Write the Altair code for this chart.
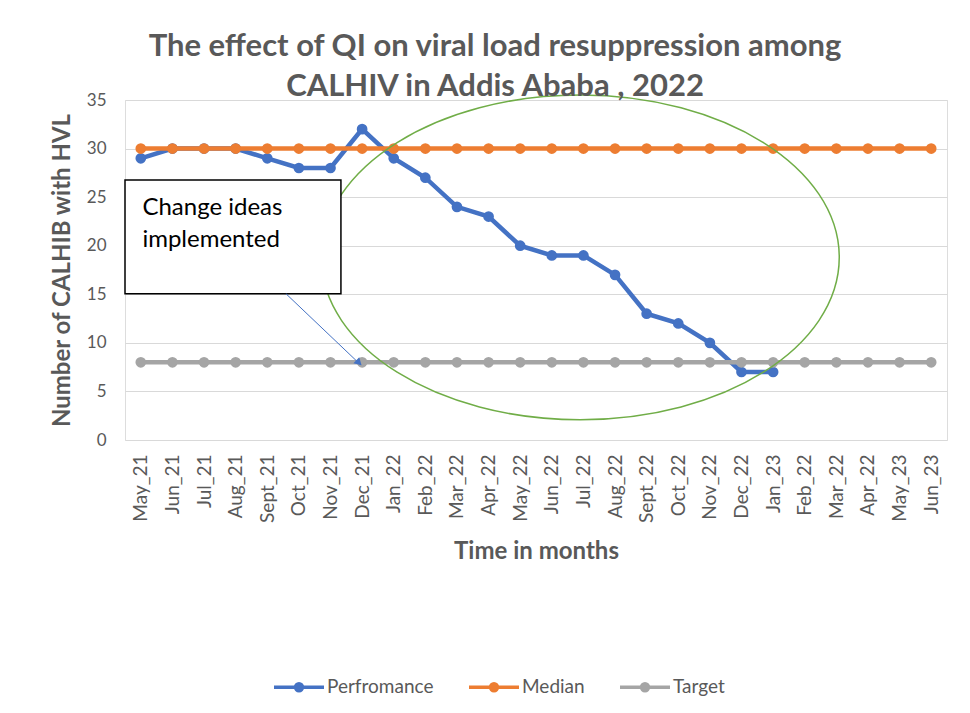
import altair as alt
import pandas as pd

# ---------------- data ----------------
months = ["May_21", "Jun_21", "Jul_21", "Aug_21", "Sept_21", "Oct_21", "Nov_21",
          "Dec_21", "Jan_22", "Feb_22", "Mar_22", "Apr_22", "May_22", "Jun_22",
          "Jul_22", "Aug_22", "Sept_22", "Oct_22", "Nov_22", "Dec_22", "Jan_23",
          "Feb_22", "Mar_22", "Apr_22", "May_23", "Jun_23"]
performance = [29, 30, 30, 30, 29, 28, 28, 32, 29, 27, 24, 23, 20, 19, 19, 17,
               13, 12, 10, 7, 7]
median = [30, 30, 30, 30, 30, 30, 30, 30, 30, 30, 30, 30, 30, 30, 30, 30, 30,
          30, 30, 30, 30, 30, 30, 30, 30, 30]
target = [8, 8, 8, 8, 8, 8, 8, 8, 8, 8, 8, 8, 8, 8, 8, 8, 8, 8, 8, 8, 8, 8, 8,
          8, 8, 8]
series_names = ["Perfromance", "Median", "Target"]
series_colors = ["#4472C4", "#ED7D31", "#A5A5A5"]

title_lines = ["The effect of QI on viral load resuppression among",
               "CALHIV in Addis Ababa , 2022"]
y_title = "Number of CALHIB with HVL"
x_title = "Time in months"

# annotations (in data units: x = month index, y = count)
note_lines = ["Change ideas", "implemented"]
note_line_y = [23.9, 20.6]
note_text_x = [0.05, 0.05]
box_x = [-0.5]
box_x2 = [6.33]
box_y = [26.77]
box_y2 = [15.06]
arrow_x = [4.59]
arrow_y = [15.06]
arrow_x2 = [6.95]
arrow_y2 = [7.75]
head_x = [6.9]
head_y = [7.95]
ellipse_cx = [13.9]
ellipse_cy = [18.8]

# ---------------- tables ----------------
rows = []
for name, vals in zip(series_names, [performance, median, target]):
    for i, v in enumerate(vals):
        rows.append({"idx": i, "series": name, "value": v})
df = pd.DataFrame(rows)

note_df = pd.DataFrame({"idx": note_text_x, "value": note_line_y, "text": note_lines})
box_df = pd.DataFrame({"idx": box_x, "idx2": box_x2, "value": box_y, "value2": box_y2})
arrow_df = pd.DataFrame({"idx": arrow_x, "idx2": arrow_x2, "value": arrow_y, "value2": arrow_y2})
head_df = pd.DataFrame({"idx": head_x, "value": head_y})
ell_df = pd.DataFrame({"idx": ellipse_cx, "value": ellipse_cy})

FONT = "Lato"
GRAY = "#595959"

label_array = "[" + ",".join("'" + m + "'" for m in months) + "]"

x_scale = alt.Scale(domain=[-0.5, 25.5], nice=False, zero=False)
y_scale = alt.Scale(domain=[0, 35], nice=False)

x_axis = alt.Axis(values=list(range(26)), labelExpr=label_array + "[datum.value]",
                  labelAngle=270, labelOverlap=False, labelFlush=False, labelBound=False,
                  grid=False, domain=False, ticks=False, labelPadding=14,
                  labelFont=FONT, labelFontSize=19, labelColor=GRAY,
                  title=x_title, titleFont=FONT, titleFontSize=24, titleFontWeight="bold",
                  titleColor=GRAY, titleY=111, titleBaseline="middle")
y_axis = alt.Axis(values=[0, 5, 10, 15, 20, 25, 30, 35], grid=True, gridColor="#D9D9D9",
                  gridWidth=1, domain=False, ticks=False, labelPadding=19,
                  labelFont=FONT, labelFontSize=17, labelColor=GRAY,
                  title=y_title, titleFont=FONT, titleFontSize=24, titleFontWeight="bold",
                  titleColor=GRAY, titleX=-63, titleY=170, titleAngle=270,
                  titleAlign="center", titleBaseline="middle")


def X(field="idx"):
    return alt.X(f"{field}:Q", scale=x_scale, axis=x_axis)


def Y(field="value"):
    return alt.Y(f"{field}:Q", scale=y_scale, axis=y_axis)


legend_symbol = ("M-1,0H1 "
                 "M0.05,0A0.05,0.05,0,1,1,-0.05,0A0.05,0.05,0,1,1,0.05,0 "
                 "M0.14,0A0.14,0.14,0,1,1,-0.14,0A0.14,0.14,0,1,1,0.14,0")

color = alt.Color("series:N",
                  scale=alt.Scale(domain=series_names, range=series_colors),
                  legend=alt.Legend(orient="none", legendX=147, legendY=560,
                                    direction="horizontal", title=None,
                                    symbolType=legend_symbol, symbolSize=2500,
                                    symbolStrokeWidth=3.5, labelFont=FONT,
                                    labelFontSize=19, labelColor=GRAY, labelOffset=1,
                                    columnPadding=28, padding=0))

layers = []
for name in series_names:
    base = alt.Chart(df).transform_filter(alt.datum.series == name)
    layers.append(base.mark_line(strokeWidth=4.5).encode(x=X(), y=Y(), color=color))
    layers.append(base.mark_point(filled=True, size=115, opacity=1).encode(
        x=X(), y=Y(), color=color))

ellipse_path = "M1,0A1,0.627,0,1,1,-1,0A1,0.627,0,1,1,1,0"
ellipse = alt.Chart(ell_df).mark_point(shape=ellipse_path, size=518 * 518, filled=False,
                                       stroke="#70AD47", strokeWidth=1.5, opacity=1).encode(
    x=X(), y=Y())

box = alt.Chart(box_df).mark_rect(fill="white", stroke="black", strokeWidth=1.5).encode(
    x=X(), x2=alt.X2("idx2:Q"), y=Y(), y2=alt.Y2("value2:Q"))

note = alt.Chart(note_df).mark_text(align="left", baseline="middle", font=FONT,
                                    fontSize=24, color="#000000").encode(
    x=X(), y=Y(), text="text:N")

arrow = alt.Chart(arrow_df).mark_rule(color="#4472C4", strokeWidth=1).encode(
    x=X(), x2=alt.X2("idx2:Q"), y=Y(), y2=alt.Y2("value2:Q"))

head = alt.Chart(head_df).mark_point(shape="triangle-up", angle=134, size=70, filled=True,
                                     color="#4472C4", opacity=1).encode(x=X(), y=Y())

chart = alt.layer(*layers, ellipse, box, note, arrow, head).properties(
    width=822, height=340,
    title=alt.TitleParams(text=title_lines, font=FONT, fontSize=31, fontWeight="bold",
                          color=GRAY, anchor="middle", frame="group", dx=-41, dy=14,
                          offset=2, lineHeight=40),
    autosize=alt.AutoSizeParams(type="none"),
    padding={"left": 117, "top": 92, "right": 15, "bottom": 265},
).configure_view(stroke=None).configure(background="white")

chart.save("out.html", embed_options={"renderer": "svg", "actions": False})
